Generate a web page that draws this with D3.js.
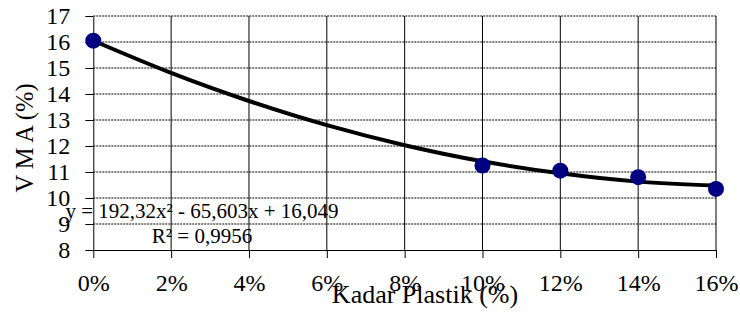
<!DOCTYPE html>
<html>
  <head>
    <script src="https://cdn.jsdelivr.net/npm/d3@7"></script>
    <style>
      body { margin: 0; background: #fff; }
      svg { display: block; font-family: "Liberation Serif", "Times New Roman", serif; }
    </style>
  </head>
  <body>
    <svg width="740" height="327"></svg>
    <script>
      // data
      var kadar = [0, 0.10, 0.12, 0.14, 0.16];
      var vma = [16.05, 11.25, 11.05, 10.8, 10.35];
      // trendline read at each 2% step
      var trendX = [0, 0.02, 0.04, 0.06, 0.08, 0.10, 0.12, 0.14, 0.16];
      var trendY = [16.05, 14.81, 13.73, 12.8, 12.03, 11.41, 10.95, 10.63, 10.48];
      var xTicks = [0, 0.02, 0.04, 0.06, 0.08, 0.10, 0.12, 0.14, 0.16];
      var yTicks = [8, 9, 10, 11, 12, 13, 14, 15, 16, 17];
      var eqLine1 = "y = 192,32x² - 65,603x + 16,049";
      var eqLine2 = "R² = 0,9956";

      var plotL = 93.3, plotR = 716, plotT = 16, plotB = 250;
      var svg = d3.select("svg");

      var x = d3.scaleLinear().domain([0, 0.16]).range([plotL, plotR]);
      var y = d3.scaleLinear().domain([8, 17]).range([plotB, plotT]);

      // horizontal dotted grid
      svg.append("g").selectAll("line")
        .data(yTicks.slice(1))
        .enter().append("line")
        .attr("x1", plotL).attr("x2", plotR)
        .attr("y1", function(d) { return y(d); })
        .attr("y2", function(d) { return y(d); })
        .attr("stroke", "#000")
        .attr("stroke-width", 1)
        .attr("stroke-dasharray", "2,1");

      // vertical grid
      svg.append("g").selectAll("line")
        .data(xTicks.slice(1))
        .enter().append("line")
        .attr("x1", function(d) { return x(d); })
        .attr("x2", function(d) { return x(d); })
        .attr("y1", plotT).attr("y2", plotB)
        .attr("stroke", "#000")
        .attr("stroke-width", 1);

      var yAxis = svg.append("g")
        .attr("transform", "translate(" + plotL + ",0)")
        .call(d3.axisLeft(y).tickValues(yTicks).tickSize(8).tickSizeOuter(0).tickPadding(15));
      yAxis.selectAll("text").attr("font-size", 24).attr("fill", "#000")
        .attr("font-family", "Liberation Serif");
      yAxis.selectAll("line, path").attr("stroke", "#000");

      var xAxis = svg.append("g")
        .attr("transform", "translate(0," + plotB + ")")
        .call(d3.axisBottom(x).tickValues(xTicks).tickSize(8).tickSizeOuter(0)
          .tickPadding(16).tickFormat(d3.format(".0%")));
      xAxis.selectAll("text").attr("font-size", 24).attr("fill", "#000")
        .attr("font-family", "Liberation Serif");
      xAxis.selectAll("line, path").attr("stroke", "#000");

      // trendline
      var line = d3.line()
        .x(function(d, i) { return x(trendX[i]); })
        .y(function(d) { return y(d); })
        .curve(d3.curveNatural);
      svg.append("path")
        .datum(trendY)
        .attr("d", line)
        .attr("fill", "none")
        .attr("stroke", "#000")
        .attr("stroke-width", 4);

      // points
      svg.append("g").selectAll("circle")
        .data(vma)
        .enter().append("circle")
        .attr("cx", function(d, i) { return x(kadar[i]); })
        .attr("cy", function(d) { return y(d); })
        .attr("r", 8)
        .attr("fill", "#000080");

      // trendline label
      [[eqLine1, 218], [eqLine2, 243]].forEach(function(l) {
        svg.append("text")
          .attr("x", 202).attr("y", l[1])
          .attr("text-anchor", "middle")
          .attr("font-size", 21)
          .text(l[0]);
      });

      // axis titles
      svg.append("text")
        .attr("x", 425).attr("y", 303)
        .attr("text-anchor", "middle")
        .attr("font-size", 26)
        .text("Kadar Plastik (%)");

      svg.append("text")
        .attr("transform", "translate(33,138) rotate(-90)")
        .attr("text-anchor", "middle")
        .attr("font-size", 24.5)
        .text("V M A (%)");
    </script>
  </body>
</html>
